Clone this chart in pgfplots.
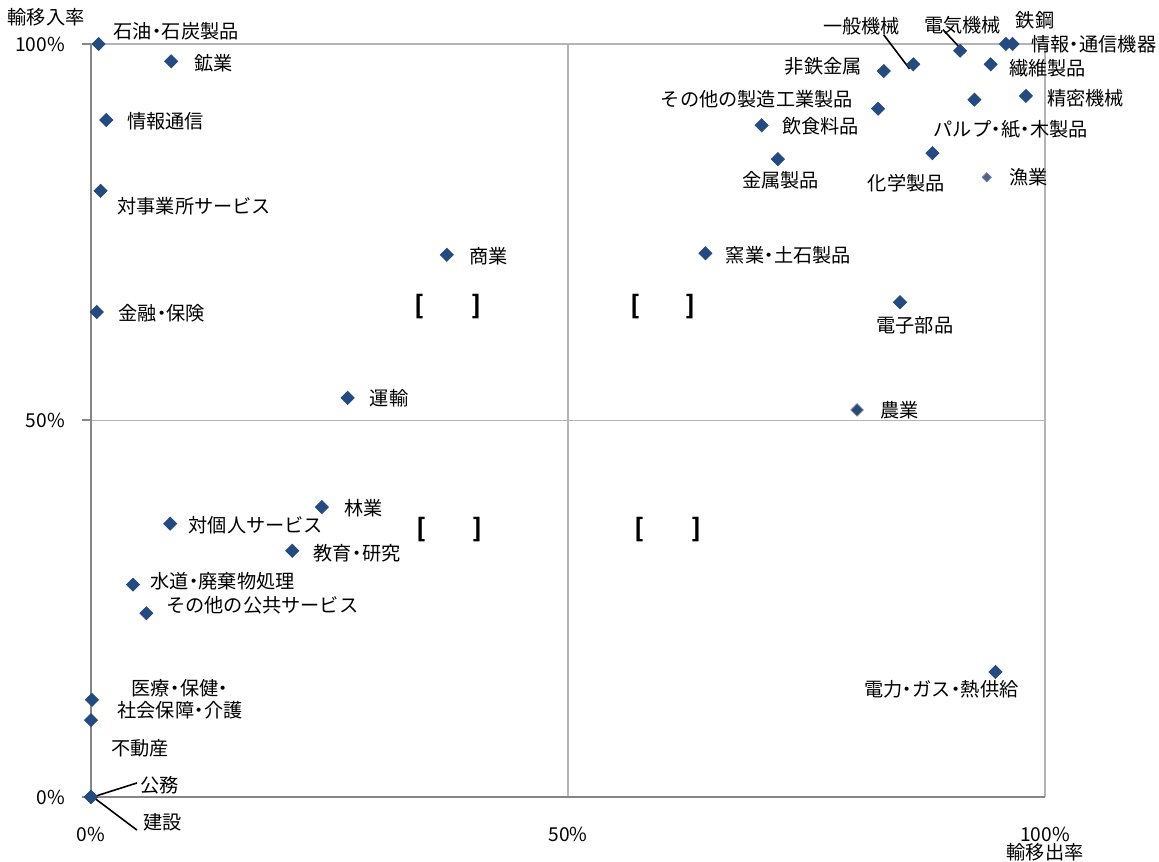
\documentclass[border=0pt]{standalone}
\usepackage{pgfplots}
\pgfplotsset{compat=1.18}
\usepackage{fontspec}
\setmainfont{Noto Sans CJK JP}

\definecolor{mk}{RGB}{36,74,130}
\definecolor{mklight}{RGB}{70,100,150}
\definecolor{axgray}{RGB}{134,134,134}
\definecolor{gridgray}{RGB}{180,180,180}
% narrow middle dot, as in the reference
\newcommand\dt{\kern-0.24em・\kern-0.24em}

\begin{document}
\begin{tikzpicture}[every node/.style={font=\fontsize{9.6}{11}\selectfont}]
\begin{axis}[
    scale only axis, width=477pt, height=376.5pt,
    xmin=0, xmax=100, ymin=0, ymax=100,
    xtick={0,50,100}, ytick={0,50,100},
    xticklabels={0\%,50\%,100\%}, yticklabels={0\%,50\%,100\%},
    /pgf/number format/assume math mode=true,
    grid=major, grid style={gridgray, line width=0.9pt},
    axis x line*=bottom, axis y line*=left,
    axis line style={axgray, line width=1pt, -},
    x tick style={draw=none},
    y tick style={axgray, line width=1pt},
    tick align=outside, major tick length=4.5pt,
    xticklabel style={yshift=-7pt},
    yticklabel style={xshift=-5pt},
    clip=false,
]
% 輸移出率, 輸移入率 (%)
\addplot[only marks, mark=square*, mark size=2.3pt, color=mk,
    mark options={rotate=45}] coordinates {
    (0.8,100) (8.4,97.7) (1.6,89.9) (1.0,80.5) (0.6,64.4)
    (37.3,72.0) (26.9,53.0) (24.2,38.5) (8.3,36.3) (21.1,32.7)
    (4.4,28.2) (5.8,24.4) (0.1,12.9) (0,10.2) (0,0) (0,0)
    (64.4,72.2) (84.8,65.7) (94.8,16.6)
    (91.1,99.1) (86.2,97.3) (83.1,96.4) (95.9,100) (96.6,100)
    (94.3,97.3) (98.0,93.1) (92.6,92.6) (82.5,91.4) (70.3,89.2)
    (72.0,84.7) (88.2,85.5)
};
\addplot[only marks, mark=square*, mark size=2.2pt, fill=mk, draw=gray,
    mark options={rotate=45}] coordinates {(80.3,51.4)};
\addplot[only marks, mark=square*, mark size=1.6pt, fill=mklight, draw=gray,
    mark options={rotate=45}] coordinates {(93.9,82.3)};

\begin{scope}[every node/.append style={anchor=west, inner sep=0pt}]
\node at (axis cs:2.31,101.7) {石油\dt 石炭製品};
\node at (axis cs:10.8,97.5) {鉱業};
\node at (axis cs:3.77,89.8) {情報通信};
\node at (axis cs:2.73,78.4) {対事業所サービス};
\node at (axis cs:2.83,64.3) {金融\dt 保険};
\node at (axis cs:39.6,71.8) {商業};
\node at (axis cs:29.2,52.9) {運輸};
\node at (axis cs:26.5,38.4) {林業};
\node at (axis cs:10.2,36.1) {対個人サービス};
\node at (axis cs:23.3,32.4) {教育\dt 研究};
\node at (axis cs:6.18,28.7) {水道\dt 廃棄物処理};
\node at (axis cs:7.86,25.4) {その他の公共サービス};
\node at (axis cs:2.10,6.5) {不動産};
\node at (axis cs:5.14,1.6) {公務};
\node at (axis cs:5.45,-3.3) {建設};
\node at (axis cs:66.5,72.0) {窯業\dt 土石製品};
\node at (axis cs:82.3,62.7) {電子部品};
\node at (axis cs:82.7,51.3) {農業};
\node at (axis cs:81.0,14.3) {電力\dt ガス\dt 熱供給};
\node at (axis cs:76.7,102.3) {一般機械};
\node at (axis cs:87.3,102.5) {電気機械};
\node at (axis cs:96.9,103.2) {鉄鋼};
\node at (axis cs:98.5,100) {情報\dt 通信機器};
\node at (axis cs:72.7,97.1) {非鉄金属};
\node at (axis cs:96.2,96.8) {繊維製品};
\node at (axis cs:59.7,92.6) {その他の製造工業製品};
\node at (axis cs:100.2,92.8) {精密機械};
\node at (axis cs:72.4,89.1) {飲食料品};
\node at (axis cs:88.3,88.6) {パルプ\dt 紙\dt 木製品};
\node at (axis cs:68.2,81.9) {金属製品};
\node at (axis cs:81.4,81.5) {化学製品};
\node at (axis cs:96.2,82.3) {漁業};
\end{scope}
\node[align=center, inner sep=0pt] at (axis cs:9.33,13.0) {医療\dt 保健\dt\\社会保障\dt 介護};

% leader lines
\draw[black, line width=0.8pt] (axis cs:83.1,101.2) -- (axis cs:85.8,96.7);
\draw[black, line width=0.8pt] (axis cs:89.3,101.9) -- (axis cs:91.6,98.8);
\draw[black, line width=0.8pt] (axis cs:4.82,1.86) -- (axis cs:0.2,0) -- (axis cs:4.82,-4.4);

% quadrant brackets
\begin{scope}[every node/.append style={font=\fontsize{12.5}{14}\selectfont\bfseries}]
\node at (axis cs:34.4,65.1) {[}; \node at (axis cs:40.4,65.1) {]};
\node at (axis cs:57.1,65.1) {[}; \node at (axis cs:62.8,65.1) {]};
\node at (axis cs:34.6,35.5) {[}; \node at (axis cs:40.5,35.5) {]};
\node at (axis cs:57.5,35.5) {[}; \node at (axis cs:63.5,35.5) {]};
\end{scope}

% axis titles
\node at (axis cs:-4.7,103.5) {輸移入率};
\node at (axis cs:100,-7.3) {輸移出率};

\coordinate (bl) at (axis cs:-9.54,-8.63);
\coordinate (tr) at (axis cs:111.95,105.84);
\end{axis}
\pgfresetboundingbox
\path[use as bounding box] (bl) rectangle (tr);
\end{tikzpicture}
\end{document}
